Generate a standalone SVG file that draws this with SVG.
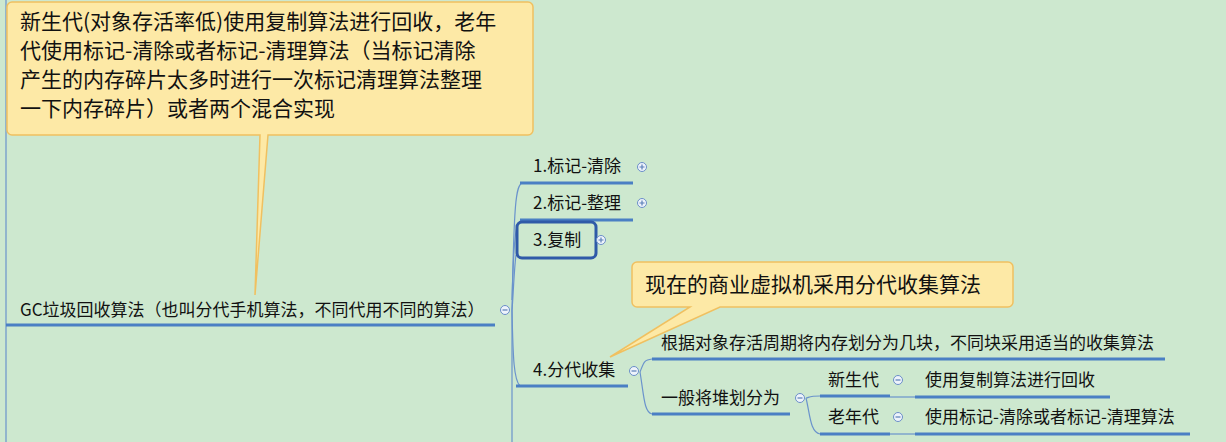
<svg xmlns="http://www.w3.org/2000/svg" width="1226" height="442" viewBox="0 0 1226 442">
<style>
text{font-family:"Noto Sans CJK SC","Liberation Sans",sans-serif;fill:#111}
.n{font-size:17px}
.c{font-size:21px}
.u{stroke:#4a7fc4;stroke-width:3;fill:none}
.l{stroke:#6a93cc;stroke-width:1.2;fill:none}
.callout{fill:#fde9a6;stroke:#f0c060;stroke-width:1.5}
.t{fill:#eef3fb;stroke:#6a8ec8;stroke-width:1}
.s{stroke:#5a7fb8;stroke-width:1.2}
</style>
<defs>
<g id="plus"><circle r="4.5" class="t"/><path d="M-2.5 0H2.5M0 -2.5V2.5" class="s"/></g>
<g id="minus"><circle r="4.5" class="t"/><path d="M-2.5 0H2.5" class="s"/></g>
</defs>
<rect width="1226" height="442" fill="#cde8cf"/>
<g id="connectors">
<path class="l" d="M6 0V442"/>
<path class="l" d="M512 310V442"/>
<path class="l" d="M512 310C514 200 516 186 522 183"/>
<path class="l" d="M512 300C514 230 516 222 522 220"/>
<path class="l" d="M512 310C513 300 514 270 516 255"/>
<path class="l" d="M512 310C513 360 514 380 520 386"/>
<path class="l" d="M640 372C644 362 644 360 652 359"/>
<path class="l" d="M640 372C644 396 644 412 652 414"/>
<path class="l" d="M806 398C810 397 810 396 820 396"/>
<path class="l" d="M806 398C810 414 810 432 820 434"/>
<path class="l" d="M890 397H915"/>
<path class="l" d="M890 434H915"/>
</g>
<g id="callout1">
<path class="callout" d="M12 2H528a5 5 0 0 1 5 5V130a5 5 0 0 1-5 5H268L255 295L260 135H12a5 5 0 0 1-5-5V7a5 5 0 0 1 5-5Z"/>
<text class="c" x="20" y="29">新生代(对象存活率低)使用复制算法进行回收，老年</text>
<text class="c" x="20" y="58">代使用标记-清除或者标记-清理算法（当标记清除</text>
<text class="c" x="20" y="87">产生的内存碎片太多时进行一次标记清理算法整理</text>
<text class="c" x="20" y="116">一下内存碎片）或者两个混合实现</text>
</g>
<g id="root">
<text class="n" x="20" y="316">GC垃圾回收算法（也叫分代手机算法，不同代用不同的算法）</text>
<path class="u" d="M6 325H495"/>
<use href="#minus" x="505" y="310"/>
</g>
<g id="n1"><text class="n" x="533" y="172">1.标记-清除</text><path class="u" d="M520 183H633"/><use href="#plus" x="642" y="167"/></g>
<g id="n2"><text class="n" x="533" y="209">2.标记-整理</text><path class="u" d="M520 220H633"/><use href="#plus" x="642" y="203"/></g>
<g id="n3"><rect x="517" y="222" width="79" height="36" rx="5" fill="none" stroke="#2f5aa8" stroke-width="3"/><text class="n" x="533" y="246">3.复制</text><use href="#plus" x="601" y="240"/></g>
<g id="callout2">
<path class="callout" d="M637 262H1008a5 5 0 0 1 5 5V302a5 5 0 0 1-5 5H720L610 357L690 307H637a5 5 0 0 1-5-5V267a5 5 0 0 1 5-5Z"/>
<text class="c" x="645" y="292">现在的商业虚拟机采用分代收集算法</text>
</g>
<g id="n4"><text class="n" x="533" y="376">4.分代收集</text><path class="u" d="M516 386H628"/><use href="#minus" x="634" y="371"/></g>
<g id="n41"><text class="n" x="661" y="349">根据对象存活周期将内存划分为几块，不同块采用适当的收集算法</text><path class="u" d="M652 359H1165"/></g>
<g id="n42"><text class="n" x="661" y="404">一般将堆划分为</text><path class="u" d="M652 414H790"/><use href="#minus" x="800" y="398"/></g>
<g id="n421"><text class="n" x="828" y="386">新生代</text><path class="u" d="M820 396H890"/><use href="#minus" x="898" y="380"/></g>
<g id="n422"><text class="n" x="828" y="423">老年代</text><path class="u" d="M820 434H890"/><use href="#minus" x="898" y="417"/></g>
<g id="n4211"><text class="n" x="925" y="386">使用复制算法进行回收</text><path class="u" d="M915 397H1110"/></g>
<g id="n4221"><text class="n" x="925" y="423">使用标记-清除或者标记-清理算法</text><path class="u" d="M915 434H1190"/></g>
</svg>
